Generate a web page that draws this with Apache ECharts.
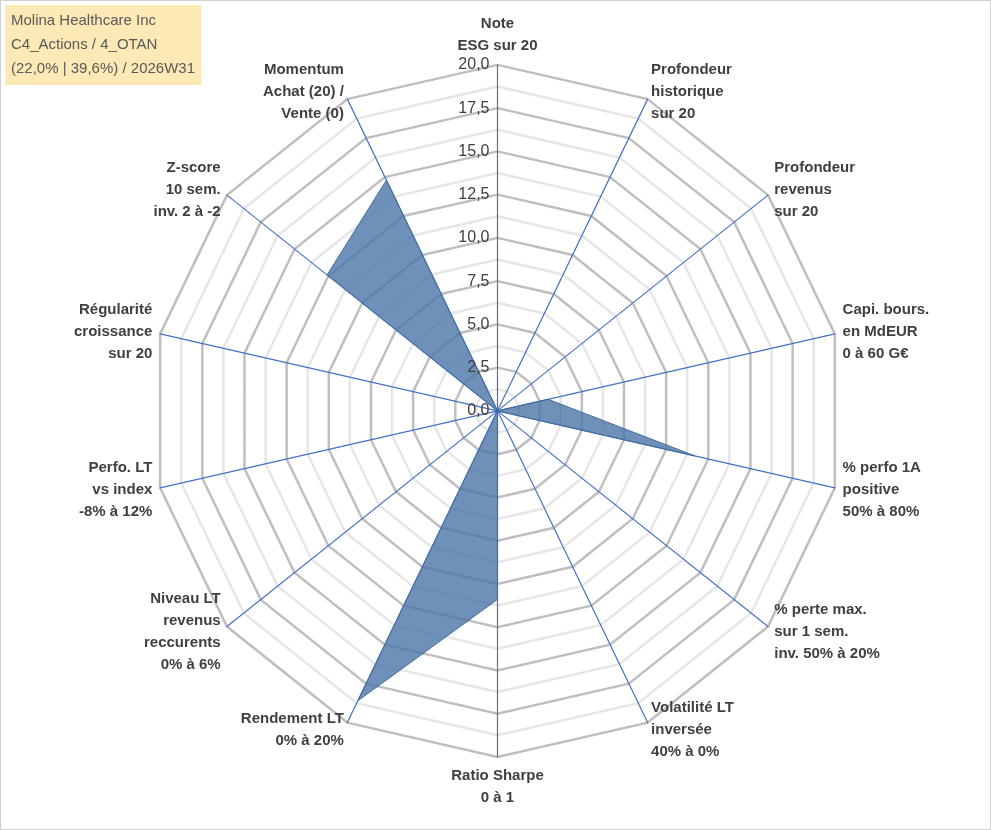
<!DOCTYPE html>
<html>
<head>
<meta charset="utf-8">
<script src="https://cdn.jsdelivr.net/npm/echarts@6/dist/echarts.min.js"></script>
<style>
html, body { margin: 0; padding: 0; background: #fff; }
#chart { width: 989px; height: 828px; border: 1px solid #d0d0d0; }
</style>
</head>
<body>
<div id="chart"></div>
<script>
// axes du radar, dans le sens horaire depuis le haut
var axes = [
	'Note\nESG sur 20',
	'Profondeur\nhistorique\nsur 20',
	'Profondeur\nrevenus\nsur 20',
	'Capi. bours.\nen MdEUR\n0 à 60 G€',
	'% perfo 1A\npositive\n50% à 80%',
	'% perte max.\nsur 1 sem.\ninv. 50% à 20%',
	'Volatilité LT\ninversée\n40% à 0%',
	'Ratio Sharpe\n0 à 1',
	'Rendement LT\n0% à 20%',
	'Niveau LT\nrevenus\nreccurents\n0% à 6%',
	'Perfo. LT\nvs index\n-8% à 12%',
	'Régularité\ncroissance\nsur 20',
	'Z-score\n10 sem.\ninv. 2 à -2',
	'Momentum\nAchat (20) /\nVente (0)'
];
var scores = [0, 0, 0, 3.0, 11.7, 0, 0, 10.9, 18.6, 0, 0, 0, 12.6, 14.8];
var ticks = [0, 2.5, 5, 7.5, 10, 12.5, 15, 17.5, 20];
var titre = 'Molina Healthcare Inc\nC4_Actions / 4_OTAN\n(22,0% | 39,6%) / 2026W31';

var center = ['50.2%', '49.5%'];
var rayon = 346;

// ECharts tourne dans le sens antihoraire : on inverse tout sauf le premier axe
function horaire(arr) { return [arr[0]].concat(arr.slice(1).reverse()); }

var chart = echarts.init(document.getElementById('chart'));
chart.setOption({
	title: {
		text: titre,
		left: 4, top: 4,
		backgroundColor: '#fde9b6',
		padding: [4, 6],
		textStyle: { color: '#595959', fontSize: 15, fontWeight: 'normal', lineHeight: 24, fontFamily: 'Liberation Sans' }
	},
	radar: {
		center: center,
		radius: rayon,
		startAngle: 90,
		shape: 'polygon',
		splitNumber: 16,
		indicator: horaire(axes).map(function(n) { return { name: n, min: 0, max: ticks[ticks.length - 1] }; }),
		axisName: {
			color: '#404040', fontSize: 15, fontWeight: 'bold', lineHeight: 22, fontFamily: 'Liberation Sans'
		},
		nameGap: 8,
		axisLine: { lineStyle: { color: '#4472c4', width: 1.2 } },
		splitLine: { lineStyle: { color: ['#bfbfbf', '#e6e6e6'], width: 2.5 } },
		splitArea: { show: false },
		axisTick: { show: false },
		axisLabel: { show: false }
	},
	polar: { center: center, radius: rayon },
	angleAxis: { startAngle: 90, show: false, min: 0, max: 360 },
	radiusAxis: {
		min: 0, max: 20, interval: 2.5,
		axisLine: { show: false },
		axisTick: { show: false },
		splitLine: { show: false },
		axisLabel: {
			color: '#404040', fontSize: 16, fontFamily: 'Liberation Sans', margin: 8,
			formatter: function(v) { return v.toFixed(1).replace('.', ','); }
		},
		z: 10
	},
	series: [{
		type: 'radar',
		symbol: 'none',
		lineStyle: { color: '#41689e', width: 1 },
		areaStyle: { color: '#4a74a8', opacity: 0.8 },
		data: [{ value: horaire(scores) }]
	}]
});
</script>
</body>
</html>
